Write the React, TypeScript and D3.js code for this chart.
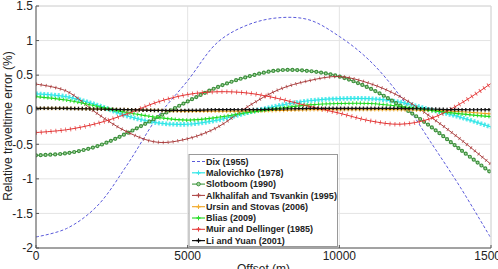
import React from "react";
import * as d3 from "d3";

const offsets = [0, 1000, 2000, 3000, 4000, 5000, 6000, 7000, 8000, 9000, 10000, 11000, 12000, 13000, 14000, 15000];
const dix = [-1.84, -1.72, -1.4, -0.8, -0.11, 0.42, 0.98, 1.23, 1.33, 1.3, 1.06, 0.71, 0.2, -0.46, -1.13, -1.86];
const malovichko = [0.23, 0.19, 0.07, -0.09, -0.19, -0.21, -0.15, -0.04, 0.06, 0.13, 0.16, 0.16, 0.11, 0.0, -0.11, -0.25];
const slotboom = [-0.66, -0.63, -0.53, -0.34, -0.11, 0.12, 0.33, 0.48, 0.57, 0.56, 0.48, 0.31, 0.06, -0.24, -0.58, -0.91];
const alkhalifah = [0.37, 0.27, -0.05, -0.32, -0.47, -0.42, -0.25, 0.05, 0.29, 0.42, 0.48, 0.38, 0.19, -0.1, -0.43, -0.79];
const ursin = [0.02, 0.02, 0.01, 0.0, -0.01, -0.02, -0.02, -0.02, -0.01, 0.0, 0.0, 0.0, 0.0, -0.01, -0.03, -0.06];
const blias = [0.19, 0.14, 0.05, -0.04, -0.11, -0.15, -0.11, -0.04, 0.02, 0.07, 0.09, 0.09, 0.05, -0.01, -0.06, -0.1];
const muir = [-0.33, -0.29, -0.2, -0.06, 0.11, 0.22, 0.26, 0.24, 0.16, 0.05, -0.05, -0.16, -0.21, -0.13, 0.09, 0.38];
const liYuan = [0.02, 0.02, 0.01, 0.0, -0.01, -0.01, 0.0, 0.0, 0.01, 0.02, 0.02, 0.02, 0.02, 0.01, 0.0, 0.0];

const seriesNames = [
  "Dix (1955)",
  "Malovichko (1978)",
  "Slotboom (1990)",
  "Alkhalifah and Tsvankin (1995)",
  "Ursin and Stovas (2006)",
  "Blias (2009)",
  "Muir and Dellinger (1985)",
  "Li and Yuan (2001)",
];
const seriesValues = [dix, malovichko, slotboom, alkhalifah, ursin, blias, muir, liYuan];
const xTicks = [0, 5000, 10000, 15000];
const yTicks = [-2, -1.5, -1, -0.5, 0, 0.5, 1, 1.5];
const xLabel = "Offset (m)";
const yLabel = "Relative traveltime error (%)";

type Style = {
  color: string;
  width: number;
  dash?: string;
  marker: "none" | "circle" | "tick";
  markColor?: string;
  markWidth?: number;
  markDash?: string;
  inner?: string;
};

const styles: Style[] = [
  { color: "#4747d6", width: 0.9, dash: "3 2", marker: "none" },
  { color: "#2fe6e6", width: 1.2, marker: "tick", markColor: "#3ee8ea", markWidth: 4.6, markDash: "2 1.6" },
  { color: "#2e8b2e", width: 1, marker: "circle", markColor: "#3d8f3d", markWidth: 4.2, markDash: "0 4.8", inner: "#a6d9a0" },
  { color: "#a83a3a", width: 1, marker: "tick", markColor: "#b04848", markWidth: 3.6, markDash: "0.9 4" },
  { color: "#f0a21e", width: 1.1, marker: "tick", markColor: "#f4b030", markWidth: 3.8, markDash: "1.2 2.6" },
  { color: "#1fd81f", width: 1.1, marker: "tick", markColor: "#2ce02c", markWidth: 3.8, markDash: "1.2 2.6" },
  { color: "#e23030", width: 1, marker: "tick", markColor: "#e64040", markWidth: 4.6, markDash: "0.9 4" },
  { color: "#111111", width: 1.2, marker: "tick", markColor: "#000000", markWidth: 3.6, markDash: "1.4 2.4" },
];

const W = 498;
const H = 269;
const left = 36;
const right = 491;
const top = 6;
const bottom = 248;

export default function App() {
  const x = d3.scaleLinear().domain([0, 15000]).range([left, right]);
  const y = d3.scaleLinear().domain([-2, 1.5]).range([bottom, top]);
  const line = d3
    .line<number>()
    .x((_, i) => x(offsets[i]))
    .y((d) => y(d))
    .curve(d3.curveCatmullRom.alpha(0.5));

  const font = "'Liberation Sans', Arial, sans-serif";

  const legX = 189;
  const legY = 154.5;
  const legW = 148.5;
  const legH = 92;
  const rowH = 11.3;

  const renderSeries = (vals: number[], s: Style, key: number) => {
    const d = line(vals) || "";
    return (
      <g key={key}>
        {s.marker === "circle" && (
          <>
            <path d={d} fill="none" stroke={s.color} strokeWidth={s.width} />
            <path d={d} fill="none" stroke={s.markColor} strokeWidth={s.markWidth} strokeDasharray={s.markDash} strokeLinecap="round" />
            <path d={d} fill="none" stroke={s.inner} strokeWidth={1.8} strokeDasharray={s.markDash} strokeLinecap="round" />
          </>
        )}
        {s.marker === "tick" && (
          <>
            <path d={d} fill="none" stroke={s.markColor} strokeWidth={s.markWidth} strokeDasharray={s.markDash} opacity={0.85} />
            <path d={d} fill="none" stroke={s.color} strokeWidth={s.width} />
          </>
        )}
        {s.marker === "none" && (
          <path d={d} fill="none" stroke={s.color} strokeWidth={s.width} strokeDasharray={s.dash} />
        )}
      </g>
    );
  };

  const legendSample = (s: Style, cy: number) => {
    const x1 = legX + 3;
    const x2 = legX + 16;
    const cx = (x1 + x2) / 2;
    return (
      <g>
        <line x1={x1} x2={x2} y1={cy} y2={cy} stroke={s.color} strokeWidth={s.width} strokeDasharray={s.dash} />
        {s.marker === "circle" && (
          <circle cx={cx} cy={cy} r={1.8} fill={s.inner} stroke={s.markColor} strokeWidth={1} />
        )}
        {s.marker === "tick" && (
          <>
            <line x1={cx} x2={cx} y1={cy - 2.3} y2={cy + 2.3} stroke={s.markColor} strokeWidth={1} />
            <line x1={cx - 2} x2={cx + 2} y1={cy} y2={cy} stroke={s.markColor} strokeWidth={1.6} />
          </>
        )}
      </g>
    );
  };

  return (
    <svg
      width={W}
      height={H}
      style={{ position: "absolute", left: 0, top: 0, background: "#fff" }}
    >
      <rect x={0} y={0} width={W} height={H} fill="#fff" />
      <defs>
        <clipPath id="plotClip">
          <rect x={left} y={top} width={right - left} height={bottom - top} />
        </clipPath>
      </defs>
      {yTicks.map((t) => (
        <line key={"gy" + t} x1={left} x2={right} y1={y(t)} y2={y(t)} stroke="#e4e4e4" strokeWidth={1} />
      ))}
      {xTicks.map((t) => (
        <line key={"gx" + t} x1={x(t)} x2={x(t)} y1={top} y2={bottom} stroke="#e4e4e4" strokeWidth={1} />
      ))}
      <g clipPath="url(#plotClip)">
        {seriesValues.map((vals, i) => renderSeries(vals, styles[i], i))}
      </g>
      <line x1={left} x2={right} y1={top} y2={top} stroke="#d8d8d8" />
      <line x1={right} x2={right} y1={top} y2={bottom} stroke="#d8d8d8" />
      <line x1={left} x2={left} y1={top} y2={bottom} stroke="#555" />
      <line x1={left} x2={right} y1={bottom} y2={bottom} stroke="#555" />
      {yTicks.map((t) => (
        <line key={"ty" + t} x1={left} x2={left + 3} y1={y(t)} y2={y(t)} stroke="#555" />
      ))}
      {xTicks.map((t) => (
        <line key={"tx" + t} x1={x(t)} x2={x(t)} y1={bottom} y2={bottom - 3} stroke="#555" />
      ))}
      {yTicks.map((t) => (
        <text key={"ly" + t} x={left - 3} y={y(t)} dy="0.36em" textAnchor="end" fontFamily={font} fontSize={12} fill="#222">
          {d3.format("")(t).replace("−", "-")}
        </text>
      ))}
      {xTicks.map((t) => (
        <text key={"lx" + t} x={x(t)} y={259.5} textAnchor="middle" fontFamily={font} fontSize={12} fill="#222">
          {String(t)}
        </text>
      ))}
      <text x={(left + right) / 2} y={273} textAnchor="middle" fontFamily={font} fontSize={12} fill="#222">
        {xLabel}
      </text>
      <text
        transform={`translate(11.5, ${126}) rotate(-90)`}
        textAnchor="middle"
        fontFamily={font}
        fontSize={12}
        fill="#222"
      >
        {yLabel}
      </text>
      <rect x={legX} y={legY} width={legW} height={legH} fill="#fff" stroke="#999" strokeWidth={1} />
      {seriesNames.map((name, i) => {
        const cy = legY + 7 + i * rowH;
        return (
          <g key={"lg" + i}>
            {legendSample(styles[i], cy)}
            <text x={legX + 17} y={cy} dy="0.35em" fontFamily={font} fontSize={9} fontWeight="bold" fill="#222">
              {name}
            </text>
          </g>
        );
      })}
    </svg>
  );
}
